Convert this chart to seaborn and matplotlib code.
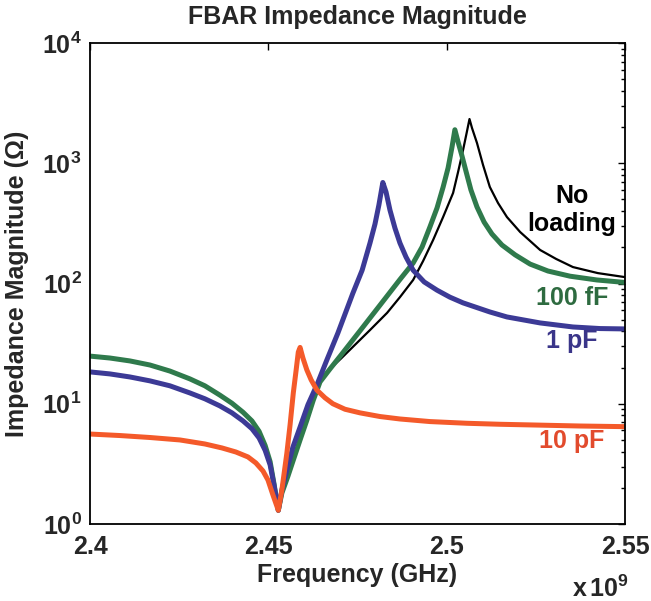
import numpy as np
import pandas as pd
import matplotlib
matplotlib.use("Agg")
import matplotlib.pyplot as plt
import seaborn as sns
from matplotlib.ticker import LogLocator, NullFormatter

# Frequency in GHz, impedance magnitude in ohms
freq_none = [2.4000, 2.4056, 2.4112, 2.4168, 2.4224, 2.4280, 2.4322, 2.4364, 2.4398,
             2.4429, 2.4454, 2.4474, 2.4491, 2.4505, 2.4516, 2.4528, 2.4538, 2.4555,
             2.4570, 2.4589, 2.4608, 2.4626, 2.4645, 2.4673, 2.4704, 2.4737, 2.4785,
             2.4833, 2.4869, 2.4906, 2.4934, 2.4962, 2.4990, 2.5018, 2.5032, 2.5046,
             2.5056, 2.5064, 2.5071, 2.5085, 2.5102, 2.5121, 2.5144, 2.5169, 2.5206,
             2.5262, 2.5307, 2.5354, 2.5424, 2.5500]
z_none = [24.9, 24.0, 22.7, 21.0, 18.7, 16.1, 14.1, 11.8, 10.1,
          8.5, 7.2, 5.9, 4.5, 3.3, 2.15, 1.3, 1.81, 2.5,
          3.4, 5.0, 7.3, 10.7, 15.2, 19.5, 23.8, 29.7, 41,
          57, 77, 107, 154, 230, 357, 566, 846, 1290,
          1786, 2333, 1965, 1474, 967, 635, 467, 357, 268,
          190, 160, 137, 122, 113]

freq_100f = [2.4000, 2.4056, 2.4112, 2.4168, 2.4224, 2.4280, 2.4322, 2.4364, 2.4398,
             2.4429, 2.4454, 2.4474, 2.4491, 2.4505, 2.4516, 2.4528, 2.4538, 2.4555,
             2.4570, 2.4589, 2.4608, 2.4626, 2.4645, 2.4673, 2.4701, 2.4757, 2.4813,
             2.4869, 2.4906, 2.4931, 2.4953, 2.4973, 2.4990, 2.5004, 2.5015, 2.5023,
             2.5032, 2.5043, 2.5054, 2.5068, 2.5085, 2.5105, 2.5127, 2.5155, 2.5192,
             2.5234, 2.5284, 2.5346, 2.5421, 2.5500]
z_100f = [24.9, 24.0, 22.7, 21.0, 18.7, 16.1, 14.1, 11.8, 10.1,
          8.5, 7.2, 5.9, 4.5, 3.3, 2.15, 1.3, 1.81, 2.5,
          3.4, 5.0, 7.3, 10.7, 15.2, 19.5, 24.8, 40.4, 66,
          108, 148, 201, 295, 425, 633, 915, 1365, 1900,
          1503, 1148, 862, 600, 433, 324, 258, 209, 173,
          145, 127, 115, 107, 102]

freq_1p = [2.4000, 2.4056, 2.4112, 2.4168, 2.4224, 2.4280, 2.4322, 2.4364, 2.4398,
           2.4429, 2.4454, 2.4474, 2.4491, 2.4505, 2.4516, 2.4528, 2.4538, 2.4552,
           2.4569, 2.4589, 2.4611, 2.4636, 2.4664, 2.4695, 2.4737, 2.4763, 2.4785,
           2.4799, 2.4810, 2.4821, 2.4830, 2.4841, 2.4855, 2.4869, 2.4886, 2.4906,
           2.4937, 2.4973, 2.5009, 2.5046, 2.5121, 2.5169, 2.5262, 2.5354, 2.5430,
           2.5500]
z_1p = [18.4, 17.7, 16.7, 15.5, 14.1, 12.3, 11.0, 9.6, 8.4,
        7.2, 6.2, 5.2, 4.1, 3.1, 2.1, 1.3, 1.92, 2.81,
        4.37, 6.4, 9.8, 14.3, 23.1, 38.7, 83, 129, 217,
        312, 450, 692, 577, 408, 289, 217, 166, 129,
        103, 88, 77, 69, 58, 52.7, 47, 43.5, 42.2,
        41.9]

freq_10p = [2.4000, 2.4084, 2.4168, 2.4252, 2.4322, 2.4370, 2.4409, 2.4443, 2.4465,
            2.4485, 2.4499, 2.4513, 2.4528, 2.4538, 2.4552, 2.4561, 2.4570, 2.4578,
            2.4584, 2.4589, 2.4597, 2.4608, 2.4620, 2.4636, 2.4659, 2.4681, 2.4715,
            2.4757, 2.4813, 2.4869, 2.4953, 2.5057, 2.5150, 2.5242, 2.5374, 2.5500]
z_10p = [5.6, 5.44, 5.24, 5.0, 4.63, 4.29, 3.97, 3.61, 3.22,
         2.76, 2.32, 1.74, 1.3, 1.92, 3.9, 6.7, 12.3, 19.1,
         26.9, 29.4, 24, 19.1, 15.8, 13.0, 11.2, 10.0, 9.0,
         8.4, 7.83, 7.47, 7.11, 6.88, 6.75, 6.66, 6.53, 6.45]

x_ticks = [2.4, 2.45, 2.5, 2.55]
x_ticklabels = ["2.4", "2.45", "2.5", "2.55"]
y_ticks = [1, 10, 100, 1000, 10000]
y_ticklabels = [r"$\mathbf{10^{0}}$", r"$\mathbf{10^{1}}$", r"$\mathbf{10^{2}}$",
                r"$\mathbf{10^{3}}$", r"$\mathbf{10^{4}}$"]

sns.set_style("white")
plt.rcParams["font.family"] = ["Liberation Sans", "DejaVu Sans"]
plt.rcParams["font.weight"] = "bold"
plt.rcParams["mathtext.fontset"] = "custom"
plt.rcParams["mathtext.rm"] = "Liberation Sans:bold"
plt.rcParams["mathtext.bf"] = "Liberation Sans:bold"
plt.rcParams["mathtext.it"] = "Liberation Sans:bold"

fig = plt.figure(figsize=(6.51, 6.01), dpi=100)
ax = fig.add_axes([90 / 651, 77 / 601, 535 / 651, 481 / 601])

series = [
    ("No loading", freq_none, z_none, "#000000", 1.6),
    ("100 fF", freq_100f, z_100f, "#2f7a4c", 3.6),
    ("1 pF", freq_1p, z_1p, "#3c3a96", 3.6),
    ("10 pF", freq_10p, z_10p, "#f45a2a", 3.6),
]
for name, f, z, color, lw in series:
    df = pd.DataFrame({"freq": f, "z": z})
    sns.lineplot(data=df, x="freq", y="z", color=color, linewidth=lw,
                 sort=False, estimator=None, ax=ax,
                 solid_joinstyle="round", solid_capstyle="butt")

ax.set_yscale("log")
ax.set_ylim(1, 1e4)
ax.set_xlim(2.4, 2.55)
ax.set_xticks(x_ticks, x_ticklabels)
ax.set_yticks(y_ticks, y_ticklabels)
ax.yaxis.set_minor_locator(LogLocator(base=10, subs=np.arange(2, 10)))
ax.yaxis.set_minor_formatter(NullFormatter())
ax.xaxis.set_minor_locator(plt.NullLocator())

ax.tick_params(which="both", direction="in", top=True, right=True,
               labelsize=18, width=1.0, color="black")
ax.tick_params(which="major", length=5)
ax.tick_params(which="minor", length=3)
ax.tick_params(axis="x", pad=8)
ax.tick_params(axis="y", pad=6)
for lab in ax.get_xticklabels() + ax.get_yticklabels():
    lab.set_fontweight("bold")
for sp in ax.spines.values():
    sp.set_linewidth(1.3)
    sp.set_color("black")

ax.set_xlabel("Frequency (GHz)", fontsize=18, fontweight="bold")
ax.set_ylabel("Impedance Magnitude (\u03a9)", fontsize=18, fontweight="bold")
ax.xaxis.set_label_coords(0.5, -0.106)
ax.xaxis.label.set_va("center")
ax.yaxis.set_label_coords(-0.136, 0.5)
ax.yaxis.label.set_va("center")
ax.set_title("FBAR Impedance Magnitude", fontsize=18, fontweight="bold", pad=14)

fig.text(572 / 651, 1 - 597 / 601, r"$\mathbf{x\,10^{9}}$", fontsize=18,
         ha="left", va="baseline")

# Curve labels
label_x = 0.901
ax.text(label_x, 0.6674, "No", transform=ax.transAxes, ha="center", va="baseline",
        fontsize=18, fontweight="bold", color="black")
ax.text(label_x, 0.6091, "loading", transform=ax.transAxes, ha="center", va="baseline",
        fontsize=18, fontweight="bold", color="black")
ax.text(label_x, 0.4553, "100 fF", transform=ax.transAxes, ha="center", va="baseline",
        fontsize=18, fontweight="bold", color="#2e6b40")
ax.text(label_x, 0.3659, "1 pF", transform=ax.transAxes, ha="center", va="baseline",
        fontsize=18, fontweight="bold", color="#3a3589")
ax.text(label_x, 0.1580, "10 pF", transform=ax.transAxes, ha="center", va="baseline",
        fontsize=18, fontweight="bold", color="#e24b2d")

fig.savefig("out.png", dpi=100, facecolor="white")
